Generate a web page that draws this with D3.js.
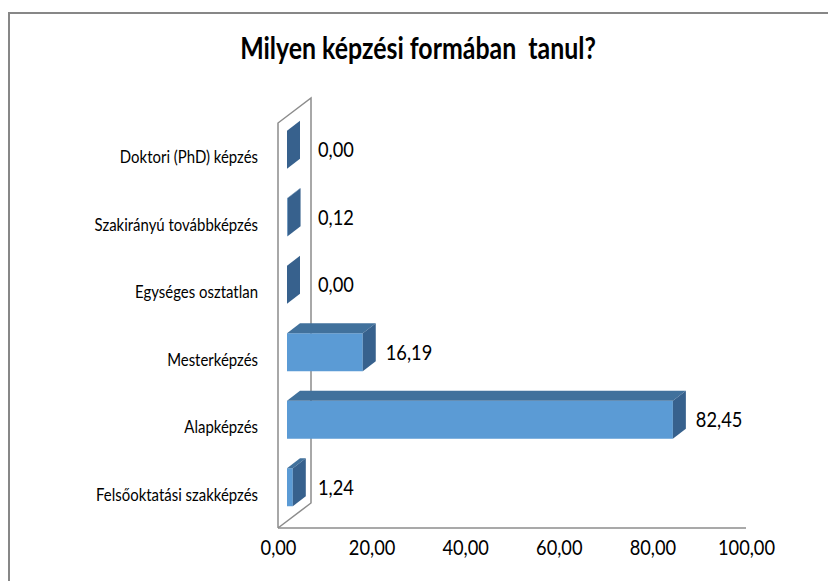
<!DOCTYPE html>
<meta charset="utf-8">
<head>
    <script src="https://cdn.jsdelivr.net/npm/d3@7"></script>
    <style>
        body { margin: 0; background: #fff; }
    </style>
</head>
<body>
    <svg width=828 height=581></svg>
</body>
<script>
    // data, bottom to top as in the chart
    let categories = [
        "Felsőoktatási szakképzés",
        "Alapképzés",
        "Mesterképzés",
        "Egységes osztatlan",
        "Szakirányú továbbképzés",
        "Doktori (PhD) képzés"
    ];
    let values = [1.24, 82.45, 16.19, 0.00, 0.12, 0.00];
    let tickValues = [0, 20, 40, 60, 80, 100];
    let title = "Milyen képzési formában  tanul?";

    let font = "Lato, 'Open Sans', sans-serif";
    let wallDx = 33, wallDy = -25;   // depth of the 3d box
    let barDx = 13, barDy = -10;     // depth of one bar
    let barOffX = 9, barOffY = -7;   // bar front sits a bit inside the box
    let narrow = 0.83;               // squeeze text a little, the original font is narrow

    let huFormat = d3.formatLocale({ decimal: ",", thousands: " ", grouping: [3], currency: ["", ""] }).format(".2f");

    let x = d3.scaleLinear()
        .domain([0, 100])
        .range([278, 746]);

    let y = d3.scaleBand()
        .domain(categories)
        .range([528, 123])
        .paddingInner(0.437)
        .paddingOuter(0.2185);

    let svg = d3.select("svg");

    // outer frame
    svg.append("rect")
        .attr("x", 9).attr("y", 13)
        .attr("width", 840).attr("height", 600)
        .attr("fill", "#fff")
        .attr("stroke", "#878787")
        .attr("stroke-width", 2);

    // title
    svg.append("text")
        .attr("transform", `translate(418, 48) scale(${narrow}, 1)`)
        .attr("dy", ".35em")
        .attr("text-anchor", "middle")
        .attr("font-family", font)
        .attr("font-weight", "bold")
        .attr("font-size", 30)
        .style("white-space", "pre")
        .text(title);

    // wall and floor lines
    let x0 = x(0), yTop = y.range()[1], yBot = y.range()[0];
    let wall = svg.append("g")
        .attr("fill", "none")
        .attr("stroke", "#8c8c8c")
        .attr("stroke-width", 1.5);
    wall.append("path")
        .attr("d", `M${x0},${yBot} L${x0},${yTop} L${x0 + wallDx},${yTop + wallDy} L${x0 + wallDx},${yBot + wallDy} L${x0},${yBot}`);
    wall.append("line")
        .attr("x1", x0).attr("y1", yBot)
        .attr("x2", x(100)).attr("y2", yBot);

    // bars
    let rows = categories.map(function (c, i) { return { label: c, value: values[i] } });
    let bar = svg.append("g").selectAll("g")
        .data(rows)
        .enter()
        .append("g");

    function face(d) {
        let x1 = x(0) + barOffX, x2 = x(d.value) + barOffX;
        let y1 = y(d.label) + barOffY, y2 = y1 + y.bandwidth();
        return { x1: x1, x2: x2, y1: y1, y2: y2 };
    }

    bar.append("rect")
        .attr("x", function (d) { return face(d).x1 })
        .attr("y", function (d) { return face(d).y1 })
        .attr("width", function (d) { return face(d).x2 - face(d).x1 })
        .attr("height", y.bandwidth())
        .attr("fill", "#5b9bd5");

    bar.append("polygon")
        .attr("points", function (d) {
            let f = face(d);
            return [[f.x1, f.y1], [f.x2, f.y1], [f.x2 + barDx, f.y1 + barDy], [f.x1 + barDx, f.y1 + barDy]].join(" ");
        })
        .attr("fill", "#41719c");

    bar.append("polygon")
        .attr("points", function (d) {
            let f = face(d);
            return [[f.x2, f.y1], [f.x2 + barDx, f.y1 + barDy], [f.x2 + barDx, f.y2 + barDy], [f.x2, f.y2]].join(" ");
        })
        .attr("fill", "#37618d");

    // value labels
    bar.append("text")
        .attr("transform", function (d) {
            let lx = Math.max(face(d).x2 + barDx + 10, x0 + 40);
            let ly = face(d).y1 + y.bandwidth() / 2;
            return `translate(${lx}, ${ly}) scale(${narrow}, 1)`;
        })
        .attr("dy", ".35em")
        .attr("font-family", font)
        .attr("font-size", 22)
        .attr("fill", "#000")
        .text(function (d) { return huFormat(d.value) });

    // category labels
    svg.append("g").selectAll("text")
        .data(categories)
        .enter()
        .append("text")
        .attr("transform", function (d) {
            return `translate(258, ${y(d) + y.bandwidth() / 2}) scale(${narrow}, 1)`;
        })
        .attr("dy", ".35em")
        .attr("text-anchor", "end")
        .attr("font-family", font)
        .attr("font-size", 18)
        .attr("fill", "#000")
        .text(function (d) { return d });

    // x axis tick labels (tick groups are translated, so scaling only squeezes in place)
    let xAxis = d3.axisBottom(x)
        .tickValues(tickValues)
        .tickFormat(huFormat)
        .tickSize(0)
        .tickPadding(11);

    let axis = svg.append("g")
        .attr("transform", `translate(0, ${yBot})`)
        .call(xAxis);
    axis.select(".domain").remove();
    axis.selectAll(".tick text")
        .attr("font-family", font)
        .attr("font-size", 22)
        .attr("fill", "#000")
        .attr("transform", `scale(${narrow}, 1)`);
</script>
